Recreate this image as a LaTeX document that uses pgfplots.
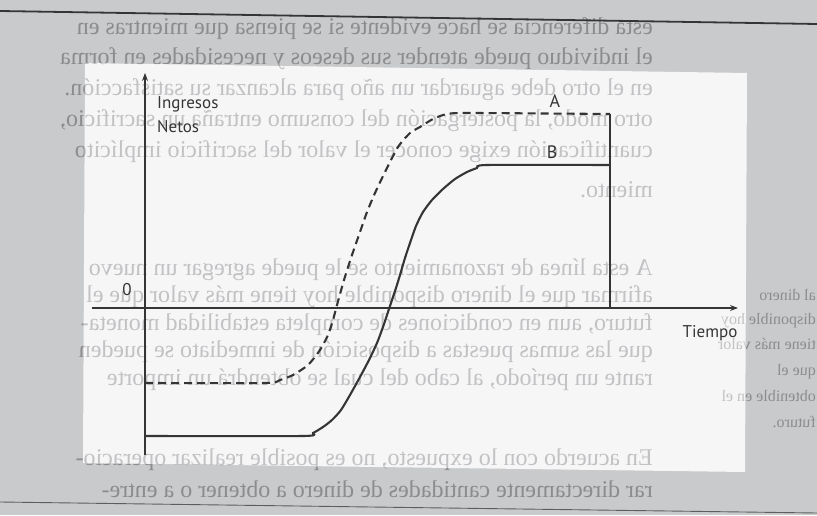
\documentclass[border=0pt]{standalone}
\usepackage{fontspec}
\setmainfont{PT Sans}
\newfontfamily\pagefont{Liberation Serif}
\usepackage{graphicx}
\usepackage{pgfplots}
\pgfplotsset{compat=1.18}
\usetikzlibrary{arrows.meta}

\definecolor{pagegray}{HTML}{C9CACC}
\definecolor{boxwhite}{HTML}{F6F6F7}
\definecolor{inkdark}{HTML}{8C8C8E}
\definecolor{inklight}{HTML}{C2C2C4}
\definecolor{chartink}{HTML}{353535}

% mirrored line of the page seen through the paper: x, y (px from top), size, text
\newcommand{\pl}[4]{\node[anchor=base east, inner sep=0pt,
  font=\pagefont\fontsize{#3}{#3}\selectfont] at (#1,{509.5-#2}) {\scalebox{-1}[1]{#4}};}

\newcommand{\pagetext}{%
  \pl{653}{29}{24}{esta diferencia se hace evidente si se piensa que mientras en}
  \pl{653}{59}{24}{el individuo puede atender sus deseos y necesidades en forma}
  \pl{653}{90}{24}{en el otro debe aguardar un año para alcanzar su satisfacción.}
  \pl{653}{121}{24}{otro modo, la postergación del consumo entraña un sacrificio,}
  \pl{653}{152}{24}{cuantificación exige conocer el valor del sacrificio implícito}
  \pl{653}{192}{24}{miento.}
  \pl{653}{270}{24}{A esta línea de razonamiento se le puede agregar un nuevo}
  \pl{653}{297}{24}{afirmar que el dinero disponible hoy tiene más valor que el}
  \pl{653}{325}{24}{futuro, aun en condiciones de completa estabilidad moneta-}
  \pl{653}{352}{24}{que las sumas puestas a disposición de inmediato se pueden}
  \pl{653}{380}{24}{rante un período, al cabo del cual se obtendrá un importe}
  \pl{653}{460}{24}{En acuerdo con lo expuesto, no es posible realizar operacio-}
  \pl{653}{492}{24}{rar directamente cantidades de dinero a obtener o a entre-}
  \pl{816}{295}{16}{al dinero}
  \pl{816}{319}{16}{disponible hoy}
  \pl{816}{344}{16}{tiene más valor}
  \pl{816}{370}{16}{que el}
  \pl{816}{396}{16}{obtenible en el}
  \pl{816}{422}{16}{futuro.}
}

\begin{document}
\begin{tikzpicture}[x=1pt,y=1pt]
\useasboundingbox (0,0) rectangle (817,515);
\clip (0,0) rectangle (817,515);

% scanned page behind the figure
\fill[pagegray] (0,0) rectangle (817,515);
\begin{scope}[text=inkdark]
  \pagetext
\end{scope}
\fill[boxwhite] (85,452) -- (747,442) -- (745,43) -- (83,52) -- cycle;
\begin{scope}
  \clip (85,452) -- (747,442) -- (745,43) -- (83,52) -- cycle;
  \begin{scope}[text=inklight]
    \pagetext
  \end{scope}
\end{scope}
\draw[line width=1.8pt, color=chartink] (0,504) -- (817,491);
\draw[line width=0.9pt, color=chartink!80] (0,13) -- (817,2);

\begin{axis}[
  at={(92pt,60pt)}, anchor=south west,
  width=646pt, height=382pt, scale only axis,
  xmin=-53, xmax=593, ymin=-147, ymax=235,
  axis lines=middle,
  axis line style={draw=chartink, line width=1.1pt, -{Stealth[length=8pt,width=6pt]}},
  xtick=\empty, ytick=\empty,
  clip=false,
]
% A: dashed curve
\addplot[chartink, line width=2.1pt, dash pattern=on 8pt off 5pt, smooth, tension=0.4] coordinates {
  (0,-75) (120,-75) (135,-72) (148,-67) (163,-57) (175,-42) (183,-27) (188,-12)
  (192,3) (199,28) (207,53) (215,76) (222,96) (230,115) (240,136) (253,161)
  (265,175) (275,181) (288,189) (302,194) (325,195) (465,194)};
% B: solid curve
\addplot[chartink, line width=2.1pt, smooth, tension=0.4] coordinates {
  (0,-128) (158,-128) (168,-125) (178,-119) (187,-112) (196,-102) (205,-87)
  (215,-69) (224,-52) (232,-35) (238,-19) (243,-4) (247,8) (251,20) (255,33)
  (260,50) (265,65) (271,82) (278,96) (287,108) (298,119) (310,129) (322,136)
  (332,140) (342,143) (465,143)};
% vertical end line
\addplot[chartink, line width=1.2pt] coordinates {(465,0) (465,194)};

\node[text=chartink, font=\fontsize{18}{18}\selectfont] at (axis cs:410,207) {A};
\node[text=chartink, font=\fontsize{18}{18}\selectfont] at (axis cs:407,156) {B};
\node[text=chartink, font=\fontsize{17}{17}\selectfont] at (axis cs:-18,18) {0};
\node[text=chartink, anchor=north west, align=left, inner sep=0pt,
  font=\fontsize{17}{24}\selectfont] at (axis cs:12,212) {Ingresos\\Netos};
\node[text=chartink, anchor=north, inner sep=0pt,
  font=\fontsize{17}{17}\selectfont] at (axis cs:565,-17) {Tiempo};
\end{axis}
\end{tikzpicture}
\end{document}
